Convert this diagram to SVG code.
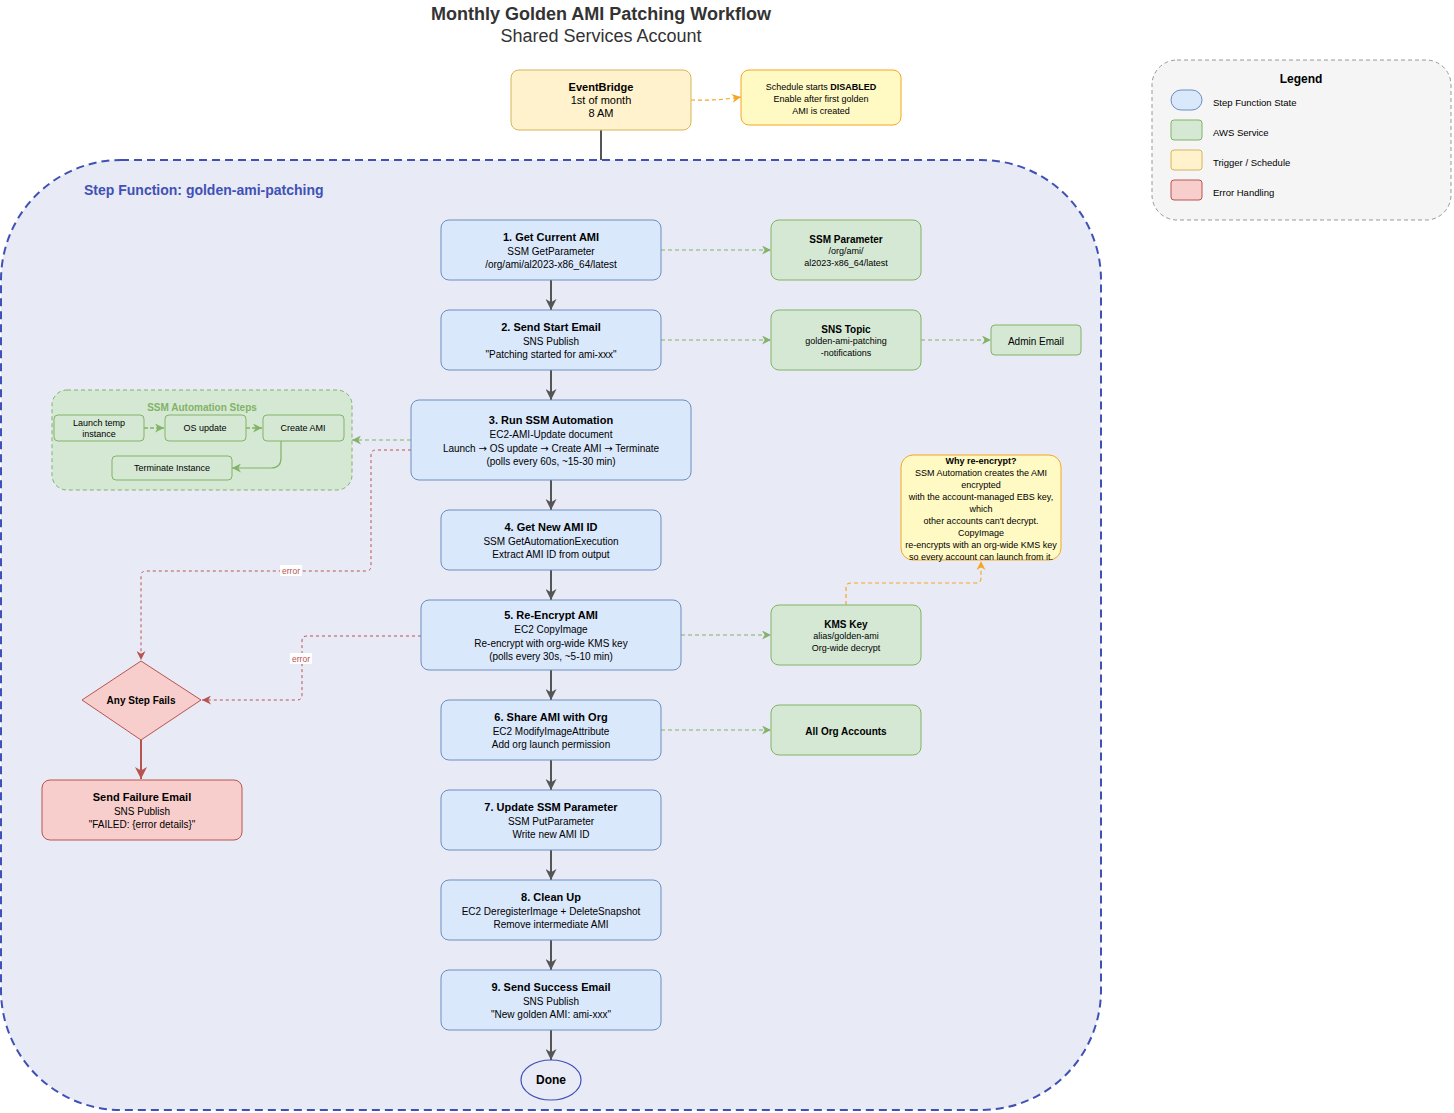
<svg xmlns="http://www.w3.org/2000/svg" width="1454" height="1113" viewBox="0 0 1454 1113">
<style>
text{font-family:"Liberation Sans",Arial,sans-serif;fill:#000;}
.t{font-size:11px;font-weight:bold;text-anchor:middle;}
.s{font-size:10px;text-anchor:middle;}
.g{font-size:9px;text-anchor:middle;}
.gb{font-size:10px;font-weight:bold;text-anchor:middle;}
.ar{font-family:"DejaVu Sans",sans-serif;font-size:10px;}
.blue{fill:#DAE8FC;stroke:#6C8EBF;stroke-width:1;}
.green{fill:#D5E8D4;stroke:#82B366;stroke-width:1;}
.red{fill:#F8CECC;stroke:#B85450;stroke-width:1;}
.yel{fill:#FFF2CC;stroke:#D6B656;stroke-width:1;}
.note{fill:#FFF9C4;stroke:#F5A623;stroke-width:1;}
.flow{fill:none;stroke:#555;stroke-width:2;}
.gd{fill:none;stroke:#82B366;stroke-width:1;stroke-dasharray:4 3;}
.rd{fill:none;stroke:#B85450;stroke-width:1;stroke-dasharray:3 3;}
.od{fill:none;stroke:#F5A623;stroke-width:1.2;stroke-dasharray:4 3;}
.lbl{font-size:8.5px;text-anchor:middle;fill:#B85450;}
</style>
<defs>
<marker id="aGray" viewBox="0 0 10 10" refX="10" refY="5" markerWidth="11" markerHeight="11" markerUnits="userSpaceOnUse" orient="auto"><path d="M0,0 L10,5 L0,10 L3,5 z" fill="#555"/></marker>
<marker id="aGreen" viewBox="0 0 10 10" refX="10" refY="5" markerWidth="9" markerHeight="9" markerUnits="userSpaceOnUse" orient="auto"><path d="M0,0 L10,5 L0,10 L3,5 z" fill="#82B366"/></marker>
<marker id="aRed" viewBox="0 0 10 10" refX="10" refY="5" markerWidth="9" markerHeight="9" markerUnits="userSpaceOnUse" orient="auto"><path d="M0,0 L10,5 L0,10 L3,5 z" fill="#B85450"/></marker>
<marker id="aRedBig" viewBox="0 0 10 10" refX="10" refY="5" markerWidth="12" markerHeight="12" markerUnits="userSpaceOnUse" orient="auto"><path d="M0,0 L10,5 L0,10 L3,5 z" fill="#B85450"/></marker>
<marker id="aOrange" viewBox="0 0 10 10" refX="10" refY="5" markerWidth="9" markerHeight="9" markerUnits="userSpaceOnUse" orient="auto"><path d="M0,0 L10,5 L0,10 L3,5 z" fill="#F5A623"/></marker>
</defs>
<rect width="1454" height="1113" fill="#FFFFFF"/>

<g id="title">
<text x="601" y="20" style="font-size:18px;font-weight:bold;text-anchor:middle;fill:#333">Monthly Golden AMI Patching Workflow</text>
<text x="601" y="42" style="font-size:18px;text-anchor:middle;fill:#333">Shared Services Account</text>
</g>

<g id="trigger-line"><path d="M601,130 L601,160" class="flow"/></g>

<g id="container">
<rect x="1" y="160" width="1100" height="950" rx="120" ry="120" fill="#E8EAF6" stroke="#3F51B5" stroke-width="2" stroke-dasharray="8 5"/>
<text x="84" y="195" style="font-size:14px;font-weight:bold;fill:#3F51B5">Step Function: golden-ami-patching</text>
</g>

<g id="legend">
<rect x="1152" y="60" width="299" height="160" rx="25" fill="#F5F5F5" stroke="#999" stroke-dasharray="4 3"/>
<text x="1301" y="83" style="font-size:12px;font-weight:bold;text-anchor:middle">Legend</text>
<rect x="1171" y="90" width="31" height="20" rx="10" class="blue"/>
<rect x="1171" y="120" width="31" height="20" rx="3" class="green"/>
<rect x="1171" y="150" width="31" height="20" rx="3" class="yel"/>
<rect x="1171" y="180" width="31" height="20" rx="3" class="red"/>
<text x="1213" y="106" style="font-size:9.5px">Step Function State</text>
<text x="1213" y="136" style="font-size:9.5px">AWS Service</text>
<text x="1213" y="166" style="font-size:9.5px">Trigger / Schedule</text>
<text x="1213" y="196" style="font-size:9.5px">Error Handling</text>
</g>

<g id="ssm-steps">
<rect x="52" y="390" width="300" height="100" rx="15" fill="#D5E8D4" stroke="#82B366" stroke-dasharray="4 3"/>
<text x="202" y="411" style="font-size:10px;font-weight:bold;text-anchor:middle;fill:#82B366">SSM Automation Steps</text>
</g>

<g id="connectors">
<path d="M691,100 Q716,101 741,97" class="od" marker-end="url(#aOrange)"/>
<path d="M551,280 L551,310" class="flow" marker-end="url(#aGray)"/>
<path d="M551,370 L551,400" class="flow" marker-end="url(#aGray)"/>
<path d="M551,480 L551,510" class="flow" marker-end="url(#aGray)"/>
<path d="M551,570 L551,600" class="flow" marker-end="url(#aGray)"/>
<path d="M551,670 L551,700" class="flow" marker-end="url(#aGray)"/>
<path d="M551,760 L551,790" class="flow" marker-end="url(#aGray)"/>
<path d="M551,850 L551,880" class="flow" marker-end="url(#aGray)"/>
<path d="M551,940 L551,970" class="flow" marker-end="url(#aGray)"/>
<path d="M551,1030 L551,1060" class="flow" marker-end="url(#aGray)"/>
<path d="M661,250 L771,250" class="gd" marker-end="url(#aGreen)"/>
<path d="M661,340 L771,340" class="gd" marker-end="url(#aGreen)"/>
<path d="M921,340 L991,340" class="gd" marker-end="url(#aGreen)"/>
<path d="M681,635 L771,635" class="gd" marker-end="url(#aGreen)"/>
<path d="M661,730 L771,730" class="gd" marker-end="url(#aGreen)"/>
<path d="M411,440 L352,440" class="gd" marker-end="url(#aGreen)"/>
<path d="M846,605 L846,588 Q846,583 851,583 L976,583 Q981,583 981,578 L981,561" class="od" marker-end="url(#aOrange)"/>
<path d="M411,450 L376,450 Q371,450 371,455 L371,566 Q371,571 366,571 L146,571 Q141,571 141,576 L141,660" class="rd" marker-end="url(#aRed)"/>
<rect x="280" y="565" width="22" height="11" fill="#FFFFFF"/>
<text x="291" y="574" class="lbl">error</text>
<path d="M421,636 L307,636 Q302,636 302,641 L302,695 Q302,700 297,700 L202,700" class="rd" marker-end="url(#aRed)"/>
<rect x="290" y="653" width="22" height="11" fill="#FFFFFF"/>
<text x="301" y="662" class="lbl">error</text>
<path d="M141,740 L141,779" fill="none" stroke="#B85450" stroke-width="2" marker-end="url(#aRedBig)"/>
<path d="M144,428 L164,428" fill="none" stroke="#82B366" stroke-width="1.5" stroke-dasharray="4 2" marker-end="url(#aGreen)"/>
<path d="M246,428 L262,428" fill="none" stroke="#82B366" stroke-width="1.5" stroke-dasharray="4 2" marker-end="url(#aGreen)"/>
<path d="M281,441 L281,458 Q281,468 271,468 L232,468" fill="none" stroke="#82B366" stroke-width="1.2" marker-end="url(#aGreen)"/>
</g>

<g id="eventbridge">
<rect x="511" y="70" width="180" height="60" rx="8" class="yel"/>
<text x="601" y="91" class="t">EventBridge</text>
<text x="601" y="104" style="font-size:11px;text-anchor:middle">1st of month</text>
<text x="601" y="117" style="font-size:11px;text-anchor:middle">8 AM</text>
</g>

<g id="schedule-note">
<rect x="741" y="70" width="160" height="55" rx="8" class="note"/>
<text x="821" y="90" class="g">Schedule starts <tspan font-weight="bold">DISABLED</tspan></text>
<text x="821" y="102" class="g">Enable after first golden</text>
<text x="821" y="114" class="g">AMI is created</text>
</g>

<g id="step1">
<rect x="441" y="220" width="220" height="60" rx="8" class="blue"/>
<text x="551" y="241" class="t">1. Get Current AMI</text>
<text x="551" y="254.5" class="s">SSM GetParameter</text>
<text x="551" y="267.5" class="s">/org/ami/al2023-x86_64/latest</text>
</g>

<g id="step2">
<rect x="441" y="310" width="220" height="60" rx="8" class="blue"/>
<text x="551" y="331" class="t">2. Send Start Email</text>
<text x="551" y="344.5" class="s">SNS Publish</text>
<text x="551" y="357.5" class="s">"Patching started for ami-xxx"</text>
</g>

<g id="step3">
<rect x="411" y="400" width="280" height="80" rx="8" class="blue"/>
<text x="551" y="424" class="t">3. Run SSM Automation</text>
<text x="551" y="437.5" class="s">EC2-AMI-Update document</text>
<text x="551" y="451.5" class="s">Launch <tspan class="ar">→</tspan> OS update <tspan class="ar">→</tspan> Create AMI <tspan class="ar">→</tspan> Terminate</text>
<text x="551" y="464.5" class="s">(polls every 60s, ~15-30 min)</text>
</g>

<g id="step4">
<rect x="441" y="510" width="220" height="60" rx="8" class="blue"/>
<text x="551" y="531" class="t">4. Get New AMI ID</text>
<text x="551" y="544.5" class="s">SSM GetAutomationExecution</text>
<text x="551" y="557.5" class="s">Extract AMI ID from output</text>
</g>

<g id="step5">
<rect x="421" y="600" width="260" height="70" rx="8" class="blue"/>
<text x="551" y="619" class="t">5. Re-Encrypt AMI</text>
<text x="551" y="632.5" class="s">EC2 CopyImage</text>
<text x="551" y="646.5" class="s">Re-encrypt with org-wide KMS key</text>
<text x="551" y="659.5" class="s">(polls every 30s, ~5-10 min)</text>
</g>

<g id="step6">
<rect x="441" y="700" width="220" height="60" rx="8" class="blue"/>
<text x="551" y="721" class="t">6. Share AMI with Org</text>
<text x="551" y="734.5" class="s">EC2 ModifyImageAttribute</text>
<text x="551" y="747.5" class="s">Add org launch permission</text>
</g>

<g id="step7">
<rect x="441" y="790" width="220" height="60" rx="8" class="blue"/>
<text x="551" y="811" class="t">7. Update SSM Parameter</text>
<text x="551" y="824.5" class="s">SSM PutParameter</text>
<text x="551" y="837.5" class="s">Write new AMI ID</text>
</g>

<g id="step8">
<rect x="441" y="880" width="220" height="60" rx="8" class="blue"/>
<text x="551" y="901" class="t">8. Clean Up</text>
<text x="551" y="914.5" class="s">EC2 DeregisterImage + DeleteSnapshot</text>
<text x="551" y="927.5" class="s">Remove intermediate AMI</text>
</g>

<g id="step9">
<rect x="441" y="970" width="220" height="60" rx="8" class="blue"/>
<text x="551" y="991" class="t">9. Send Success Email</text>
<text x="551" y="1004.5" class="s">SNS Publish</text>
<text x="551" y="1017.5" class="s">"New golden AMI: ami-xxx"</text>
</g>

<g id="done">
<ellipse cx="551" cy="1080" rx="30" ry="20" fill="#E8EAF6" stroke="#3F51B5" stroke-width="1.2"/>
<text x="551" y="1084" style="font-size:12px;font-weight:bold;text-anchor:middle">Done</text>
</g>

<g id="ssm-parameter">
<rect x="771" y="220" width="150" height="60" rx="8" class="green"/>
<text x="846" y="242.5" class="gb">SSM Parameter</text>
<text x="846" y="254" class="g">/org/ami/</text>
<text x="846" y="266" class="g">al2023-x86_64/latest</text>
</g>

<g id="sns-topic">
<rect x="771" y="310" width="150" height="60" rx="8" class="green"/>
<text x="846" y="332.5" class="gb">SNS Topic</text>
<text x="846" y="344" class="g">golden-ami-patching</text>
<text x="846" y="356" class="g">-notifications</text>
</g>

<g id="admin-email">
<rect x="991" y="325" width="90" height="30" rx="4" class="green"/>
<text x="1036" y="344.5" class="s">Admin Email</text>
</g>

<g id="kms-key">
<rect x="771" y="605" width="150" height="60" rx="8" class="green"/>
<text x="846" y="627.5" class="gb">KMS Key</text>
<text x="846" y="639" class="g">alias/golden-ami</text>
<text x="846" y="651" class="g">Org-wide decrypt</text>
</g>

<g id="org-accounts">
<rect x="771" y="705" width="150" height="50" rx="8" class="green"/>
<text x="846" y="734.5" class="gb">All Org Accounts</text>
</g>

<g id="why-note">
<rect x="901" y="455" width="160" height="105" rx="12" class="note"/>
<text x="981" y="464" class="g" font-weight="bold">Why re-encrypt?</text>
<text x="981" y="476" class="g">SSM Automation creates the AMI</text>
<text x="981" y="488" class="g">encrypted</text>
<text x="981" y="500" class="g">with the account-managed EBS key,</text>
<text x="981" y="512" class="g">which</text>
<text x="981" y="524" class="g">other accounts can't decrypt.</text>
<text x="981" y="536" class="g">CopyImage</text>
<text x="981" y="548" class="g">re-encrypts with an org-wide KMS key</text>
<text x="981" y="560" class="g">so every account can launch from it.</text>
</g>

<g id="launch-temp">
<rect x="54" y="415" width="90" height="26" rx="4" class="green"/>
<text x="99" y="426" class="g">Launch temp</text>
<text x="99" y="437" class="g">instance</text>
</g>
<g id="os-update">
<rect x="165" y="415" width="81" height="26" rx="4" class="green"/>
<text x="205" y="431" class="g">OS update</text>
</g>
<g id="create-ami">
<rect x="263" y="415" width="81" height="26" rx="4" class="green"/>
<text x="303" y="431" class="g">Create AMI</text>
</g>
<g id="terminate">
<rect x="112" y="456" width="120" height="24" rx="4" class="green"/>
<text x="172" y="471" class="g">Terminate Instance</text>
</g>

<g id="any-step-fails">
<polygon points="141,661 201,700 141,740 82,700" class="red"/>
<text x="141" y="704" class="gb">Any Step Fails</text>
</g>

<g id="failure-email">
<rect x="42" y="780" width="200" height="60" rx="8" class="red"/>
<text x="142" y="801" class="t">Send Failure Email</text>
<text x="142" y="814.5" class="s">SNS Publish</text>
<text x="142" y="827.5" class="s">"FAILED: {error details}"</text>
</g>
</svg>
